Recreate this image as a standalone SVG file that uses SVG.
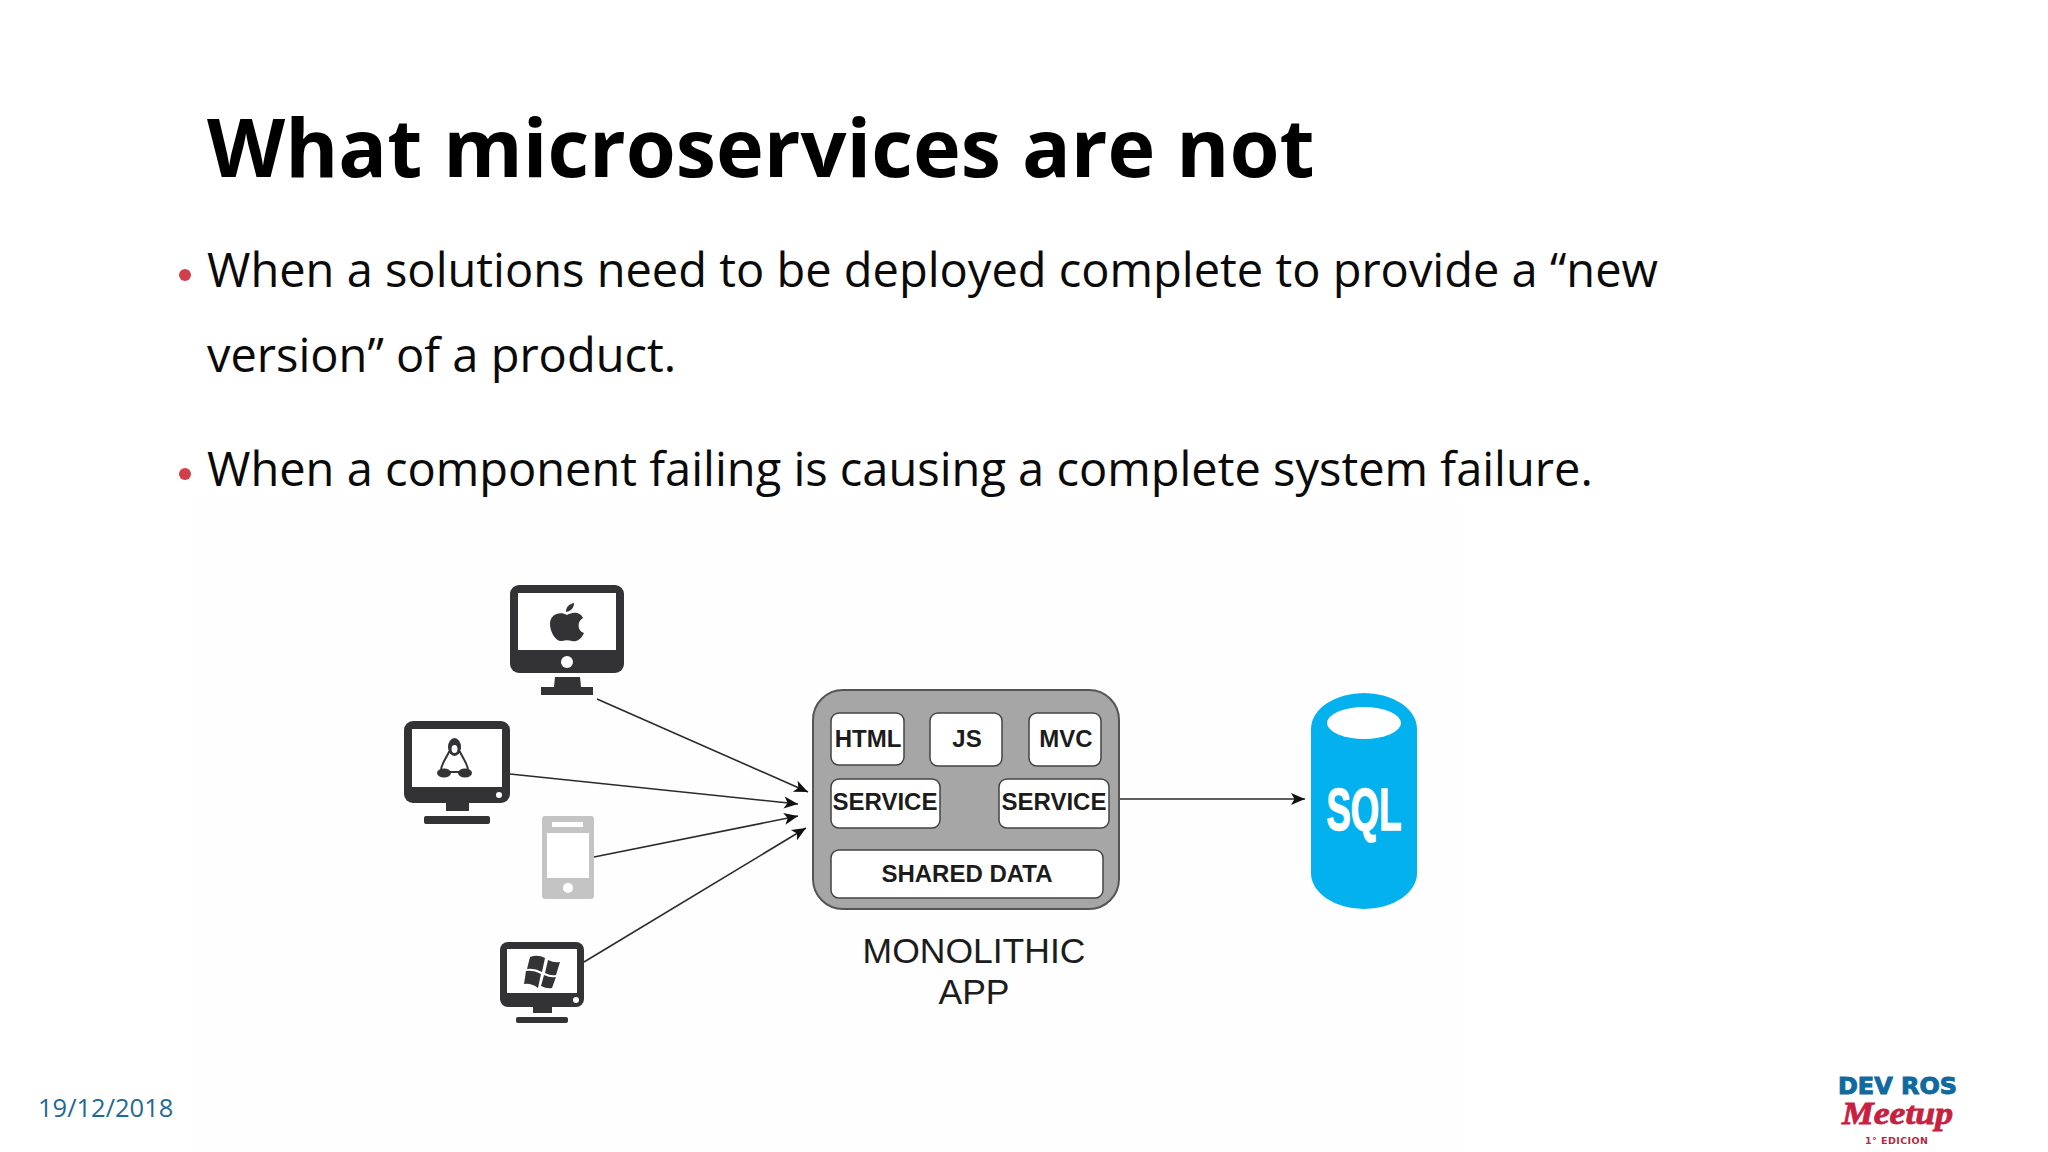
<svg xmlns="http://www.w3.org/2000/svg" width="2048" height="1152" viewBox="0 0 2048 1152">
<style>
.title{font:700 80.900px "Open Sans",sans-serif;fill:#000}
.body{font:400 47px "Open Sans",sans-serif;fill:#0a0a0a}
.date{font:400 25.500px "Open Sans",sans-serif;fill:#1f6a92}
.dark{fill:#333335}
.scr{fill:#fff}
.box{fill:#fff;stroke:#444;stroke-width:1.5}
.lbl{font:700 24px "Liberation Sans",Arial,sans-serif;fill:#1c1c1c;text-anchor:middle}
.cap{font:400 35.500px "Liberation Sans",Arial,sans-serif;fill:#1c1c1c;text-anchor:middle}
.ln{stroke:#2a2a2a;stroke-width:1.6;fill:none;marker-end:url(#ah)}
</style>
<defs>
<marker id="ah" markerUnits="userSpaceOnUse" markerWidth="16" markerHeight="14" refX="15" refY="7" orient="auto">
<path d="M1 1 L15 7 L1 13 L4.500 7Z" fill="#111"/>
</marker>
</defs>
<rect width="2048" height="1152" fill="#fff"/>
<rect x="195" y="500" width="1265" height="652" fill="#fefefe"/>
<text class="title" x="207" y="177">What microservices are not</text>
<circle cx="185" cy="275" r="6" fill="#d1404a"/>
<text class="body" x="207" y="287">When a solutions need to be deployed complete to provide a “new</text>
<text class="body" x="207" y="372">version” of a product.</text>
<circle cx="185" cy="474" r="6" fill="#d1404a"/>
<text class="body" x="207" y="486">When a component failing is causing a complete system failure.</text>
<text class="date" x="38" y="1117">19/12/2018</text>

<g id="connectors">
<line class="ln" x1="597" y1="699" x2="808" y2="792"/>
<line class="ln" x1="510" y1="774" x2="798" y2="804"/>
<line class="ln" x1="594" y1="857" x2="798" y2="816"/>
<line class="ln" x1="584" y1="962" x2="806" y2="828"/>
<line class="ln" x1="1119" y1="799" x2="1305" y2="799"/>
</g>

<g id="client-mac">
<rect class="dark" x="510" y="585" width="114" height="88" rx="9"/>
<rect class="scr" x="518" y="593" width="98" height="57"/>
<circle class="scr" cx="567" cy="662" r="6"/>
<path class="dark" d="M555 677H580L581 687H593V695H541V687H554Z"/>
<path class="dark" d="M567 615C572 612 580 611 583 618C577 621 577 631 584 633C581 640 576 642 572 641C569 640 565 640 562 641C556 642 550 632 550 624C550 614 560 611 567 615ZM566 612C566 607 569 604 574 603C574 608 571 611 566 612Z"/>
</g>

<g id="client-linux">
<rect class="dark" x="404" y="721" width="106" height="82" rx="9"/>
<rect class="scr" x="412" y="729" width="90" height="58"/>
<circle class="scr" cx="499" cy="795" r="3"/>
<rect class="dark" x="446" y="803" width="23" height="8"/>
<rect class="dark" x="424" y="816" width="66" height="8" rx="2"/>
<path d="M449 752C445 760 440 766 441 772H468C469 766 464 760 460 752Z" fill="#fff" stroke="#333335" stroke-width="2"/>
<ellipse class="dark" cx="454.500" cy="747" rx="6.500" ry="9"/>
<ellipse class="scr" cx="454.500" cy="749" rx="3" ry="4"/>
<ellipse class="dark" cx="444" cy="773" rx="7" ry="4.500"/>
<ellipse class="dark" cx="465" cy="773" rx="7" ry="4.500"/>
</g>

<g id="client-phone">
<rect x="542" y="816" width="52" height="83" rx="3" fill="#c4c4c4"/>
<rect class="scr" x="547" y="833" width="42" height="45"/>
<rect class="scr" x="552" y="822" width="31" height="5"/>
<circle class="scr" cx="568" cy="888" r="5"/>
</g>

<g id="client-windows">
<rect class="dark" x="500" y="942" width="84" height="65" rx="8"/>
<rect class="scr" x="507" y="949" width="70" height="44"/>
<circle class="scr" cx="576" cy="1000" r="3"/>
<rect class="dark" x="533" y="1007" width="19" height="6"/>
<rect class="dark" x="516" y="1017" width="52" height="6" rx="2"/>
<path class="dark" d="M530 957Q538 954 545 958L542 972Q535 968 527 969ZM548 960Q554 963 560 962L556 975Q551 976 545 973ZM526 971Q534 970 541 974L538 988Q531 983 524 984ZM544 975Q550 978 556 977L552 988Q547 989 541 986Z"/>
</g>

<g id="monolith">
<rect x="813" y="690" width="306" height="219" rx="30" fill="#a6a6a6" stroke="#555" stroke-width="2"/>
</g>
<g id="html"><rect class="box" x="831" y="713" width="73" height="52" rx="8"/><text class="lbl" x="868" y="747">HTML</text></g>
<g id="js"><rect class="box" x="930" y="713" width="72" height="53" rx="8"/><text class="lbl" x="967" y="747">JS</text></g>
<g id="mvc"><rect class="box" x="1029" y="713" width="72" height="53" rx="8"/><text class="lbl" x="1066" y="747">MVC</text></g>
<g id="service-1"><rect class="box" x="831" y="779" width="109" height="49" rx="8"/><text class="lbl" x="885" y="810">SERVICE</text></g>
<g id="service-2"><rect class="box" x="999" y="779" width="110" height="49" rx="8"/><text class="lbl" x="1054" y="810">SERVICE</text></g>
<g id="shared-data"><rect class="box" x="831" y="850" width="272" height="48" rx="8"/><text class="lbl" x="967" y="882">SHARED DATA</text></g>
<g id="monolith-label">
<text class="cap" x="974" y="963">MONOLITHIC</text>
<text class="cap" x="974" y="1004">APP</text>
</g>

<g id="sql">
<rect x="1311" y="693" width="106" height="216" rx="53" ry="36" fill="#02b1ee"/>
<ellipse class="scr" cx="1364" cy="723" rx="37" ry="16"/>
<text x="1364" y="830" text-anchor="middle" textLength="75" lengthAdjust="spacingAndGlyphs" font-family="Liberation Sans, Arial, sans-serif" font-weight="700" font-size="60" fill="#fff" stroke="#fff" stroke-width="1.500">SQL</text>
</g>

<g id="logo">
<text x="1838" y="1094" textLength="119" lengthAdjust="spacingAndGlyphs" font-family="DejaVu Sans, sans-serif" font-weight="700" font-size="23" fill="#0f6aa0" stroke="#0f6aa0" stroke-width="1">DEV ROS</text>
<text x="1842" y="1124" textLength="111" lengthAdjust="spacingAndGlyphs" font-family="Liberation Serif, serif" font-style="italic" font-weight="700" font-size="32" fill="#c8203f" stroke="#c8203f" stroke-width=".8">Meetup</text>
<text x="1865" y="1144" textLength="63" font-family="DejaVu Sans, sans-serif" font-weight="700" font-size="9.500" fill="#b8283f">1° EDICION</text>
</g>
</svg>
